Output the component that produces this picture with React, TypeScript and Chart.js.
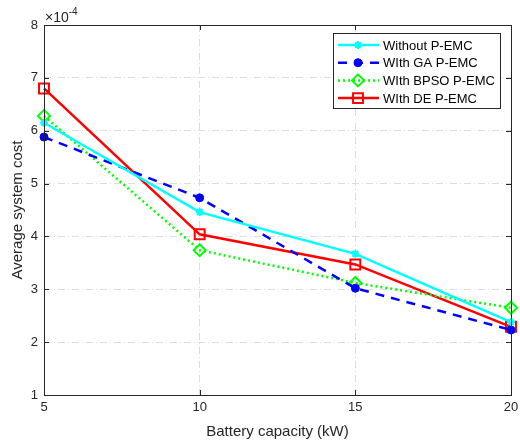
import React, { useEffect, useRef } from "react";
import { Chart, registerables } from "chart.js";
Chart.register(...registerables);

const capacities = [5, 10, 15, 20];
const withoutPEMC = [6.15, 4.46, 3.67, 2.38];
const withGA = [5.88, 4.73, 3.02, 2.23];
const withBPSO = [6.28, 3.74, 3.12, 2.65];
const withDE = [6.8, 4.04, 3.47, 2.29];
const seriesNames = ["Without P-EMC", "WIth GA P-EMC", "WIth BPSO P-EMC", "WIth DE P-EMC"];
const yTicks = [1, 2, 3, 4, 5, 6, 7, 8];
const xTicks = [5, 10, 15, 20];
const xTitle = "Battery capacity (kW)";
const yTitle = "Average system cost";
const exponent = "-4";

const FONT = "'Liberation Sans', Arial, sans-serif";
const AX = "#262626";

const styles = [
  { color: "#00ffff", dash: [] as number[], point: "star", radius: 4, fill: true, width: 2.5, bw: 2 },
  { color: "#0000ff", dash: [9, 7], point: "circle", radius: 4, fill: true, width: 2.5, bw: 1 },
  { color: "#00ff00", dash: [2, 3], point: "rectRot", radius: 6, fill: false, width: 2.5, bw: 2 },
  { color: "#ff0000", dash: [] as number[], point: "rect", radius: 7, fill: false, width: 2.5, bw: 2 },
];

function drawMarker(ctx: CanvasRenderingContext2D, kind: string, x: number, y: number, r: number, color: string, fill: boolean, bw: number) {
  ctx.save();
  ctx.setLineDash([]);
  ctx.strokeStyle = color;
  ctx.fillStyle = color;
  ctx.lineWidth = bw;
  ctx.beginPath();
  if (kind === "circle") {
    ctx.arc(x, y, r, 0, Math.PI * 2);
    ctx.fill();
    ctx.stroke();
  } else if (kind === "rect") {
    const h = r * Math.SQRT1_2;
    ctx.rect(x - h, y - h, 2 * h, 2 * h);
    ctx.stroke();
  } else if (kind === "rectRot") {
    ctx.moveTo(x, y - r);
    ctx.lineTo(x + r, y);
    ctx.lineTo(x, y + r);
    ctx.lineTo(x - r, y);
    ctx.closePath();
    ctx.stroke();
  } else {
    const d = r * Math.SQRT1_2;
    ctx.moveTo(x - d, y - d); ctx.lineTo(x + d, y + d);
    ctx.moveTo(x - d, y + d); ctx.lineTo(x + d, y - d);
    ctx.moveTo(x, y - r); ctx.lineTo(x, y + r);
    ctx.moveTo(x - r, y); ctx.lineTo(x + r, y);
    ctx.stroke();
  }
  ctx.restore();
}

const framePlugin = {
  id: "frame",
  afterDatasetsDraw(chart: any) {
    const { ctx, chartArea: a, scales } = chart;
    ctx.save();
    ctx.strokeStyle = AX;
    ctx.lineWidth = 1;
    ctx.setLineDash([]);
    ctx.strokeRect(Math.round(a.left) + 0.5, Math.round(a.top) + 0.5, Math.round(a.right - a.left), Math.round(a.bottom - a.top));
    ctx.beginPath();
    for (const t of xTicks) {
      const x = Math.round(scales.x.getPixelForValue(t)) + 0.5;
      ctx.moveTo(x, a.bottom); ctx.lineTo(x, a.bottom - 5);
      ctx.moveTo(x, a.top); ctx.lineTo(x, a.top + 5);
    }
    for (const t of yTicks) {
      const y = Math.round(scales.y.getPixelForValue(t)) + 0.5;
      ctx.moveTo(a.left, y); ctx.lineTo(a.left + 5, y);
      ctx.moveTo(a.right, y); ctx.lineTo(a.right - 5, y);
    }
    ctx.stroke();
    // exponent label
    ctx.fillStyle = AX;
    ctx.textBaseline = "alphabetic";
    ctx.textAlign = "left";
    ctx.font = `14px ${FONT}`;
    ctx.fillText("\u00d710", a.left + 1, a.top - 3);
    const w = ctx.measureText("\u00d710").width;
    ctx.font = `10px ${FONT}`;
    ctx.fillText(exponent, a.left + 1 + w, a.top - 10);

    // legend
    const lx = 333, ly = 33, lw = 167, lh = 75;
    ctx.fillStyle = "#ffffff";
    ctx.fillRect(lx, ly, lw, lh);
    ctx.strokeStyle = AX;
    ctx.lineWidth = 1;
    ctx.strokeRect(lx + 0.5, ly + 0.5, lw, lh);
    ctx.font = `13px ${FONT}`;
    ctx.textBaseline = "middle";
    seriesNames.forEach((name, i) => {
      const s = styles[i];
      const y = ly + 12 + i * 17.7;
      ctx.save();
      ctx.strokeStyle = s.color;
      ctx.lineWidth = s.width;
      ctx.setLineDash(s.dash);
      ctx.beginPath();
      ctx.moveTo(lx + 5, y);
      ctx.lineTo(lx + 46, y);
      ctx.stroke();
      ctx.restore();
      drawMarker(ctx, s.point, lx + 25, y, s.radius, s.color, s.fill, s.bw);
      ctx.fillStyle = "#000";
      ctx.fillText(name, lx + 50, y + 1);
    });
    ctx.restore();
  },
};

export default function App() {
  const ref = useRef<HTMLCanvasElement>(null);
  useEffect(() => {
    const all = [withoutPEMC, withGA, withBPSO, withDE];
    const chart = new Chart(ref.current!, {
      type: "line",
      data: {
        datasets: all.map((vals, i) => {
          const s = styles[i];
          return {
            label: seriesNames[i],
            data: capacities.map((c, j) => ({ x: c, y: vals[j] })),
            borderColor: s.color,
            backgroundColor: s.fill ? s.color : "rgba(0,0,0,0)",
            borderWidth: s.width,
            borderDash: s.dash,
            pointStyle: s.point,
            pointRadius: s.radius,
            pointBorderWidth: s.bw,
            pointBorderColor: s.color,
            pointBackgroundColor: s.fill ? s.color : "rgba(0,0,0,0)",
            tension: 0,
            clip: false as any,
          };
        }),
      },
      options: {
        animation: false,
        responsive: false,
        layout: { padding: { left: 0, right: 8, top: 25, bottom: 0 } },
        plugins: { legend: { display: false }, tooltip: { enabled: false } },
        scales: {
          x: {
            type: "linear",
            min: 5,
            max: 20,
            afterBuildTicks: (s: any) => { s.ticks = xTicks.map((v) => ({ value: v })); },
            afterFit: (s: any) => { s.height = 48; s.paddingLeft = 0; s.paddingRight = 0; },
            ticks: { color: AX, font: { family: FONT, size: 13 }, padding: 5, maxRotation: 0 },
            grid: { color: "#dddddd", lineWidth: 1, drawTicks: false },
            border: { display: false, dash: [7, 3, 1, 3] },
            title: { display: true, text: xTitle, color: AX, font: { family: FONT, size: 15 }, padding: { top: 0, bottom: 2 } },
          },
          y: {
            type: "linear",
            min: 1,
            max: 8,
            afterBuildTicks: (s: any) => { s.ticks = yTicks.map((v) => ({ value: v })); },
            afterFit: (s: any) => { s.width = 44; },
            ticks: { color: AX, font: { family: FONT, size: 13 }, padding: 6 },
            grid: { color: "#dddddd", lineWidth: 1, drawTicks: false },
            border: { display: false, dash: [7, 3, 1, 3] },
            title: { display: true, text: yTitle, color: AX, font: { family: FONT, size: 15 }, padding: { top: 9, bottom: 0 } },
          },
        },
      },
      plugins: [framePlugin],
    } as any);
    return () => chart.destroy();
  }, []);
  return (
    <div style={{ position: "absolute", left: 0, top: 0, width: 520, height: 443, background: "#fff" }}>
      <canvas ref={ref} width={520} height={443} />
    </div>
  );
}
